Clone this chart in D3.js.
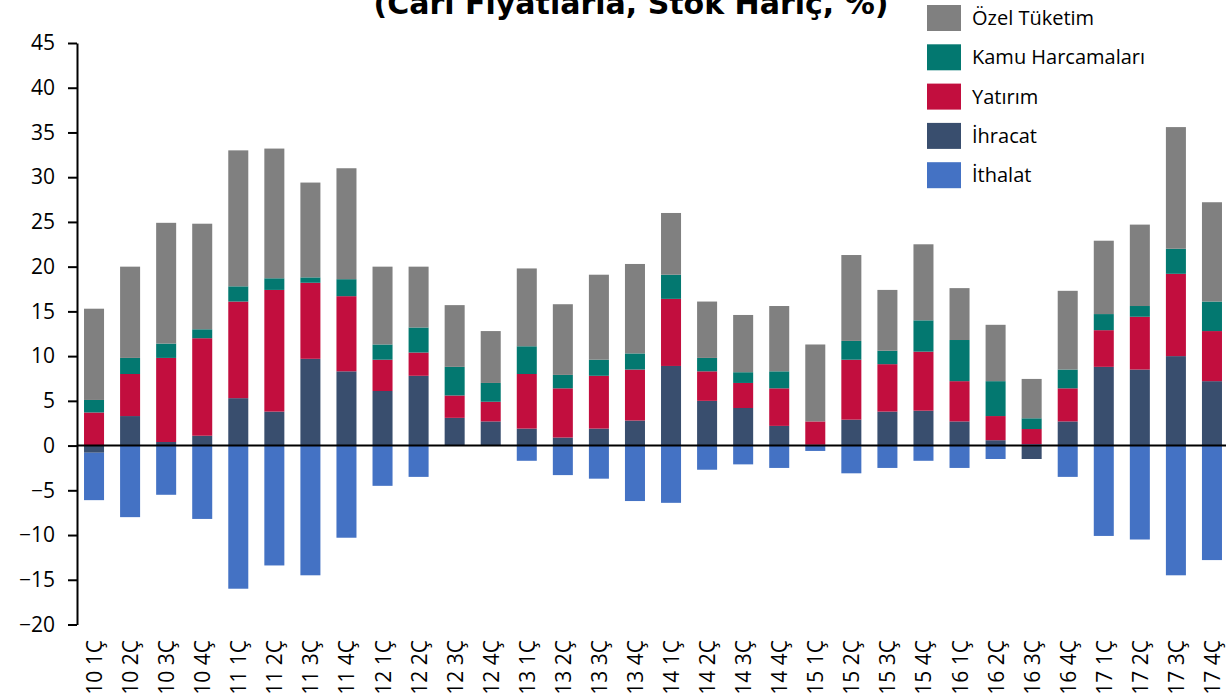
<!DOCTYPE html>
<html>
<head>
<meta charset="utf-8">
<script src="https://cdn.jsdelivr.net/npm/d3@7"></script>
<style>
  body { margin: 0; background: #fff; overflow: hidden; }
  svg { display: block; }
</style>
</head>
<body>
<div id="chart"></div>
<script>
// categories (quarters)
var categories = ["10 1Ç","10 2Ç","10 3Ç","10 4Ç","11 1Ç","11 2Ç","11 3Ç","11 4Ç",
  "12 1Ç","12 2Ç","12 3Ç","12 4Ç","13 1Ç","13 2Ç","13 3Ç","13 4Ç",
  "14 1Ç","14 2Ç","14 3Ç","14 4Ç","15 1Ç","15 2Ç","15 3Ç","15 4Ç",
  "16 1Ç","16 2Ç","16 3Ç","16 4Ç","17 1Ç","17 2Ç","17 3Ç","17 4Ç"];

// series values (contributions, %)
var ozel    = [10.2,10.2,13.5,11.8,15.2,14.5,10.6,12.4, 8.7, 6.8, 6.9, 5.8, 8.7, 7.9, 9.5,10.0,
                6.9, 6.3, 6.4, 7.3, 8.6, 9.6, 6.8, 8.5, 5.8, 6.3, 4.4, 8.8, 8.2, 9.1,13.6,11.1];
var kamu    = [ 1.4, 1.8, 1.6, 1.0, 1.7, 1.3, 0.6, 1.9, 1.7, 2.8, 3.2, 2.1, 3.1, 1.5, 1.8, 1.8,
                2.7, 1.5, 1.2, 1.9, 0.0, 2.1, 1.5, 3.5, 4.6, 3.9, 1.2, 2.1, 1.8, 1.2, 2.8, 3.3];
var yatirim = [ 3.7, 4.7, 9.4,10.9,10.8,13.6, 8.5, 8.4, 3.5, 2.6, 2.5, 2.2, 6.1, 5.5, 5.9, 5.7,
                7.5, 3.3, 2.8, 4.2, 2.6, 6.7, 5.3, 6.6, 4.5, 2.7, 1.7, 3.7, 4.1, 5.9, 9.2, 5.6];
var ihracat = [-0.8, 3.3, 0.4, 1.1, 5.3, 3.8, 9.7, 8.3, 6.1, 7.8, 3.1, 2.7, 1.9, 0.9, 1.9, 2.8,
                8.9, 5.0, 4.2, 2.2, 0.1, 2.9, 3.8, 3.9, 2.7, 0.6,-1.5, 2.7, 8.8, 8.5,10.0, 7.2];
var ithalat = [-5.3,-8.0,-5.5,-8.2,-16.0,-13.4,-14.5,-10.3,-4.5,-3.5, 0.0, 0.0,-1.7,-3.3,-3.7,-6.2,
               -6.4,-2.7,-2.1,-2.5,-0.6,-3.1,-2.5,-1.7,-2.5,-1.5, 0.15,-3.5,-10.1,-10.5,-14.5,-12.8];

// y tick labels
var yTicks = [-20,-15,-10,-5,0,5,10,15,20,25,30,35,40,45];

var series = [
  {key: "İhracat", values: ihracat, color: "#394e6e"},
  {key: "İthalat", values: ithalat, color: "#4472c4"},
  {key: "Yatırım", values: yatirim, color: "#c20e3e"},
  {key: "Kamu Harcamaları", values: kamu, color: "#037870"},
  {key: "Özel Tüketim", values: ozel, color: "#808080"}
];
var legendOrder = ["Özel Tüketim","Kamu Harcamaları","Yatırım","İhracat","İthalat"];

var w = 1226, h = 698;
var svg = d3.select("#chart").append("svg")
  .attr("width", w)
  .attr("height", h);

var font = "'Open Sans', 'Noto Sans', sans-serif";

// build rows for d3.stack
var rows = categories.map(function(c, i) {
  var r = {cat: c};
  series.forEach(function(s) { r[s.key] = s.values[i]; });
  return r;
});

var stack = d3.stack()
  .keys(series.map(function(s) { return s.key; }))
  .offset(d3.stackOffsetDiverging);
var stacked = stack(rows);

var x = d3.scaleBand()
  .domain(categories)
  .range([76, 1230])
  .paddingInner(0.445)
  .paddingOuter(0.2225);

var y = d3.scaleLinear()
  .domain([-20, 45])
  .range([624.5, 43]);

var color = {};
series.forEach(function(s) { color[s.key] = s.color; });

// bars
svg.append("g").selectAll("g")
  .data(stacked)
  .enter().append("g")
  .attr("fill", function(d) { return color[d.key]; })
  .selectAll("rect")
  .data(function(d) { return d; })
  .enter().append("rect")
  .attr("x", function(d) { return x(d.data.cat); })
  .attr("width", x.bandwidth())
  .attr("y", function(d) { return y(Math.max(d[0], d[1])); })
  .attr("height", function(d) { return Math.abs(y(d[0]) - y(d[1])); });

// y axis
var yAxis = svg.append("g")
  .attr("transform", "translate(77,0)")
  .call(d3.axisLeft(y).tickValues(yTicks).tickSize(9).tickPadding(13).tickSizeOuter(0));
yAxis.select(".domain").attr("stroke", "#000").attr("stroke-width", 2);
yAxis.selectAll(".tick line").attr("stroke", "#000").attr("stroke-width", 2);
yAxis.selectAll("text")
  .attr("font-family", font)
  .attr("font-size", "21px")
  .attr("fill", "#000");

// zero line
svg.append("line")
  .attr("x1", 77).attr("x2", w)
  .attr("y1", y(0)).attr("y2", y(0))
  .attr("stroke", "#000")
  .attr("stroke-width", 2);

// x labels (rotated, at the bottom)
svg.append("g").selectAll("text")
  .data(categories)
  .enter().append("text")
  .attr("transform", function(d) {
    return "translate(" + (x(d) + x.bandwidth() / 2 + 8) + ",640) rotate(-90)";
  })
  .attr("text-anchor", "end")
  .attr("font-family", font)
  .attr("font-size", "21px")
  .attr("fill", "#000")
  .text(function(d) { return d; });

// title (top part cut off in the picture)
svg.append("text")
  .attr("x", 631)
  .attr("y", 14)
  .attr("text-anchor", "middle")
  .attr("font-family", "'DejaVu Sans', sans-serif")
  .attr("font-weight", "bold")
  .attr("font-size", "30px")
  .attr("fill", "#000")
  .text("(Cari Fiyatlarla, Stok Hariç, %)");

// legend
var legend = svg.append("g").selectAll("g")
  .data(legendOrder)
  .enter().append("g")
  .attr("transform", function(d, i) { return "translate(927," + (5 + i * 39.3) + ")"; });
legend.append("rect")
  .attr("width", 34)
  .attr("height", 26)
  .attr("fill", function(d) { return color[d]; });
legend.append("text")
  .attr("x", 45)
  .attr("y", 20)
  .attr("font-family", font)
  .attr("font-size", "20px")
  .attr("fill", "#000")
  .text(function(d) { return d; });
</script>
</body>
</html>
